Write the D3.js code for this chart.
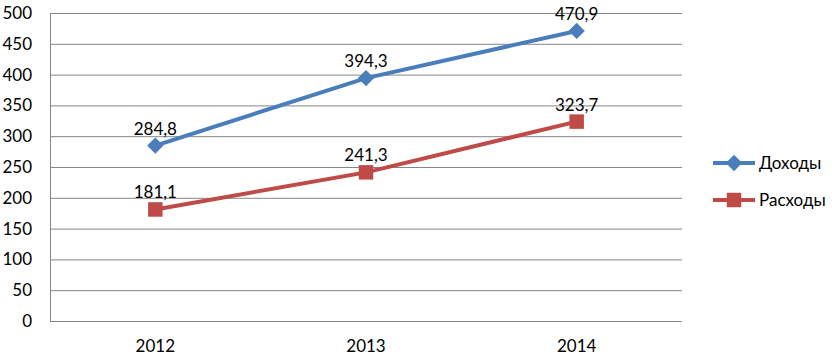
<!DOCTYPE html>
<html>
<head>
<meta charset="utf-8">
<script src="https://cdn.jsdelivr.net/npm/d3@7"></script>
<style>
  body { margin: 0; background: #fff; }
  text { font-family: Lato, "Liberation Sans", sans-serif; font-size: 17px; fill: #000; }
</style>
</head>
<body>
<script>
var width = 832;
var height = 355;

// data
var years = ['2012', '2013', '2014'];
var incomes = [284.8, 394.3, 470.9];
var expenses = [181.1, 241.3, 323.7];
var seriesNames = ['Доходы', 'Расходы'];
var yTicks = [0, 50, 100, 150, 200, 250, 300, 350, 400, 450, 500];

var colors = ['#4A7EBB', '#BE4B48'];

var svg = d3.select('body').append('svg').attr('width', width).attr('height', height);

var x = d3.scaleBand().domain(years).range([50, 682]);
var y = d3.scaleLinear().domain([0, 500]).range([321, 13]);

// gridlines
svg.selectAll('.grid').data(yTicks).enter()
  .append('line')
  .attr('x1', 50).attr('x2', 682)
  .attr('y1', function(d){ return y(d) + 0.5; })
  .attr('y2', function(d){ return y(d) + 0.5; })
  .attr('stroke', '#868686').attr('stroke-width', 1);

// y axis line
svg.append('line')
  .attr('x1', 50.5).attr('x2', 50.5)
  .attr('y1', y(500)).attr('y2', y(0) + 1)
  .attr('stroke', '#868686');

// y labels
svg.selectAll('.ylab').data(yTicks).enter()
  .append('text')
  .attr('x', 32)
  .attr('y', function(d){ return y(d); })
  .attr('dy', '0.35em')
  .attr('text-anchor', 'end')
  .text(function(d){ return d; });

// x labels
svg.selectAll('.xlab').data(years).enter()
  .append('text')
  .attr('x', function(d){ return x(d) + x.bandwidth() / 2; })
  .attr('y', 346)
  .attr('dy', '0.35em')
  .attr('text-anchor', 'middle')
  .text(function(d){ return d; });

var cx = function(i){ return x(years[i]) + x.bandwidth() / 2; };
var fmt = function(v){ return v.toFixed(1).replace('.', ','); };

var line = d3.line()
  .x(function(d, i){ return cx(i); })
  .y(function(d){ return y(d); });

var diamond = d3.symbol().type(d3.symbolDiamond2).size(170);
var square = d3.symbol().type(d3.symbolSquare).size(210);

[incomes, expenses].forEach(function(values, s){
  svg.append('path')
    .attr('d', line(values))
    .attr('fill', 'none')
    .attr('stroke', colors[s])
    .attr('stroke-width', 4);

  svg.selectAll('.m' + s).data(values).enter()
    .append('path')
    .attr('d', s === 0 ? diamond : square)
    .attr('transform', function(d, i){ return 'translate(' + cx(i) + ',' + y(d) + ')'; })
    .attr('fill', colors[s]);

  svg.selectAll('.l' + s).data(values).enter()
    .append('text')
    .attr('x', function(d, i){ return cx(i); })
    .attr('y', function(d){ return y(d) - 17; })
    .attr('dy', '0.35em')
    .attr('text-anchor', 'middle')
    .text(fmt);
});

// legend
var legendY = [163, 200];
seriesNames.forEach(function(name, s){
  var g = svg.append('g').attr('transform', 'translate(0,' + legendY[s] + ')');
  g.append('line')
    .attr('x1', 713).attr('x2', 755).attr('y1', 0).attr('y2', 0)
    .attr('stroke', colors[s]).attr('stroke-width', 4);
  g.append('path')
    .attr('d', s === 0 ? diamond : square)
    .attr('transform', 'translate(734,0)')
    .attr('fill', colors[s]);
  g.append('text')
    .attr('x', 759).attr('y', 0).attr('dy', '0.35em')
    .text(name);
});
</script>
</body>
</html>
